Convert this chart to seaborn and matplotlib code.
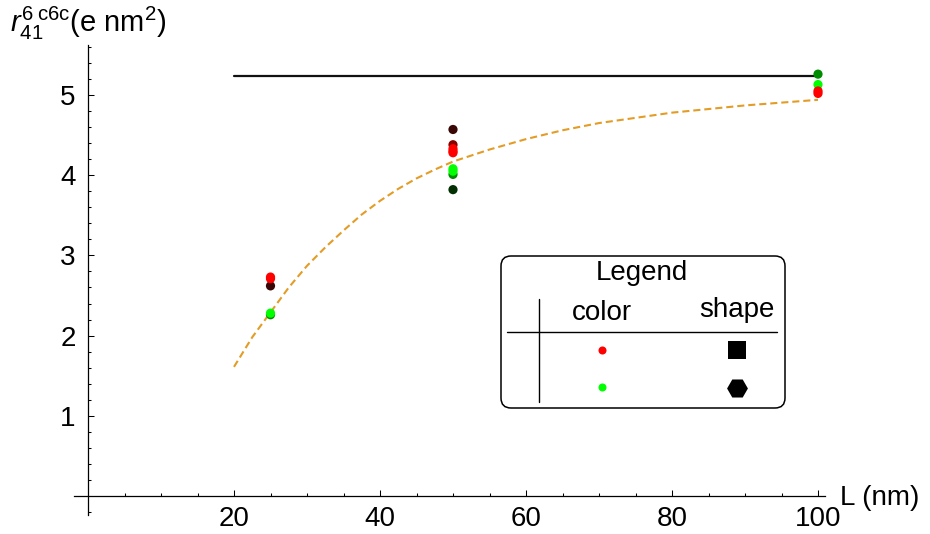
import matplotlib
matplotlib.use("Agg")
import pandas as pd
import matplotlib.pyplot as plt
from matplotlib.patches import FancyBboxPatch
from matplotlib.ticker import FixedLocator
import seaborn as sns

# measured points (L in nm, r in e nm^2), darker tones first so bright ones sit on top
pt_L = [25, 25, 25, 25, 25,
        50, 50, 50, 50, 50, 50, 50, 50, 50,
        100, 100, 100, 100]
pt_r = [2.62, 2.73, 2.71, 2.26, 2.28,
        4.57, 4.38, 4.33, 4.30, 4.28, 3.82, 4.01, 4.05, 4.08,
        5.26, 5.13, 5.05, 5.02]
pt_tone = ["dkred", "red", "red", "midgreen", "green",
           "dkred", "maroon", "red", "red", "red", "dkgreen", "midgreen", "green", "green",
           "midgreen", "green", "red", "red"]
tone_colors = {"red": "#ff0000", "maroon": "#8a0000", "dkred": "#3a0606",
               "green": "#00ff00", "midgreen": "#008c00", "dkgreen": "#023002"}

# dashed fit curve
fit_L = [20, 22.5, 25, 27.5, 30, 32.5, 35, 37.5, 40, 42.5, 45, 47.5, 50, 55, 60, 65, 70, 80, 90, 100]
fit_r = [1.61, 1.98, 2.29, 2.60, 2.87, 3.10, 3.31, 3.51, 3.68, 3.83, 3.96, 4.07, 4.17, 4.32,
         4.45, 4.56, 4.65, 4.78, 4.87, 4.94]

# horizontal limit line
lim_L = [20, 100]
lim_r = [5.24, 5.24]

x_major = [20, 40, 60, 80, 100]
y_major = [1, 2, 3, 4, 5]

sns.set_style("white")
plt.rcParams["font.family"] = ["Liberation Sans", "DejaVu Sans"]
plt.rcParams["mathtext.fontset"] = "custom"
plt.rcParams["mathtext.rm"] = "Liberation Sans"
plt.rcParams["mathtext.it"] = "Liberation Sans:italic"
plt.rcParams["text.color"] = "black"
plt.rcParams["xtick.color"] = "black"
plt.rcParams["ytick.color"] = "black"

W, H = 930, 534
fig = plt.figure(figsize=(9.3, 5.34), dpi=100)
ax = fig.add_axes([60 / W, (H - 525) / H, 780 / W, 485 / H])

pts = pd.DataFrame({"L": pt_L, "r": pt_r, "tone": pt_tone})
fit = pd.DataFrame({"L": fit_L, "r": fit_r})
lim = pd.DataFrame({"L": lim_L, "r": lim_r})

sns.lineplot(data=lim, x="L", y="r", color="#111111", linewidth=1.6,
             estimator=None, sort=False, ax=ax)
sns.lineplot(data=fit, x="L", y="r", color="#e39c25", linewidth=1.5,
             linestyle=(0, (3.4, 1.9)), estimator=None, sort=False, ax=ax)
sns.scatterplot(data=pts, x="L", y="r", hue="tone", palette=tone_colors,
                s=44, linewidth=0, legend=False, ax=ax, zorder=3)

ax.set_xlim((60 - 88) / 7.3, (840 - 88) / 7.3)
ax.set_ylim((496 - 525) / 80.2, (496 - 40) / 80.2)
ax.set_xlabel("")
ax.set_ylabel("")

# Mathematica style axes crossing at origin
for side in ["top", "right"]:
    ax.spines[side].set_visible(False)
ax.spines["left"].set_position(("data", 0))
ax.spines["bottom"].set_position(("data", 0))
ax.spines["bottom"].set_bounds(-1.9, 101)
ax.spines["left"].set_bounds(-0.24, 5.62)
for side in ["left", "bottom"]:
    ax.spines[side].set_linewidth(0.9)
    ax.spines[side].set_color("black")

ax.xaxis.set_major_locator(FixedLocator(x_major))
ax.xaxis.set_minor_locator(FixedLocator([5 * i for i in range(1, 21)]))
ax.yaxis.set_major_locator(FixedLocator(y_major))
ax.yaxis.set_minor_locator(FixedLocator([i * 0.2 for i in range(-1, 29) if i != 0]))
ax.tick_params(which="both", direction="in", width=0.75, color="black",
               bottom=True, left=True, top=False, right=False)
ax.tick_params(which="major", length=4.5, labelsize=20, labelcolor="black")
ax.tick_params(which="minor", length=2.5)
ax.tick_params(axis="x", pad=7)
ax.tick_params(axis="y", pad=9)

fig.text(10 / W, 1 - 32 / H, r"$r_{41}^{6\;\mathrm{c6c}}$(e nm$^2$)",
         fontsize=21, va="baseline", ha="left")
fig.text(840 / W, 1 - 505 / H, "L (nm)", fontsize=20, va="baseline", ha="left")

# hand made legend table, in pixel units relative to its top-left corner
lax = fig.add_axes([500 / W, (H - 409) / H, 286 / W, 154 / H])
lax.set_xlim(0, 286)
lax.set_ylim(154, 0)
lax.axis("off")
lax.add_patch(FancyBboxPatch((1, 1), 284, 152, boxstyle="round,pad=0,rounding_size=10",
                             facecolor="white", edgecolor="black", linewidth=1.1))
lax.text(142, 18, "Legend", fontsize=20, ha="center", va="center")
lax.text(102, 58, "color", fontsize=20, ha="center", va="center")
lax.text(237, 55, "shape", fontsize=20, ha="center", va="center")
lax.plot([39, 39], [44, 147], color="black", linewidth=1)
lax.plot([7, 277], [77, 77], color="black", linewidth=1)
lax.plot(102, 95, "o", color="#ff0000", markersize=5.8, markeredgewidth=0)
lax.plot(102, 132, "o", color="#00ff00", markersize=5.8, markeredgewidth=0)
lax.plot(237, 95, "s", color="black", markersize=13.5, markeredgewidth=0)
lax.plot(237, 133, "H", color="black", markersize=15, markeredgewidth=0)

fig.savefig("out.png", dpi=100)
